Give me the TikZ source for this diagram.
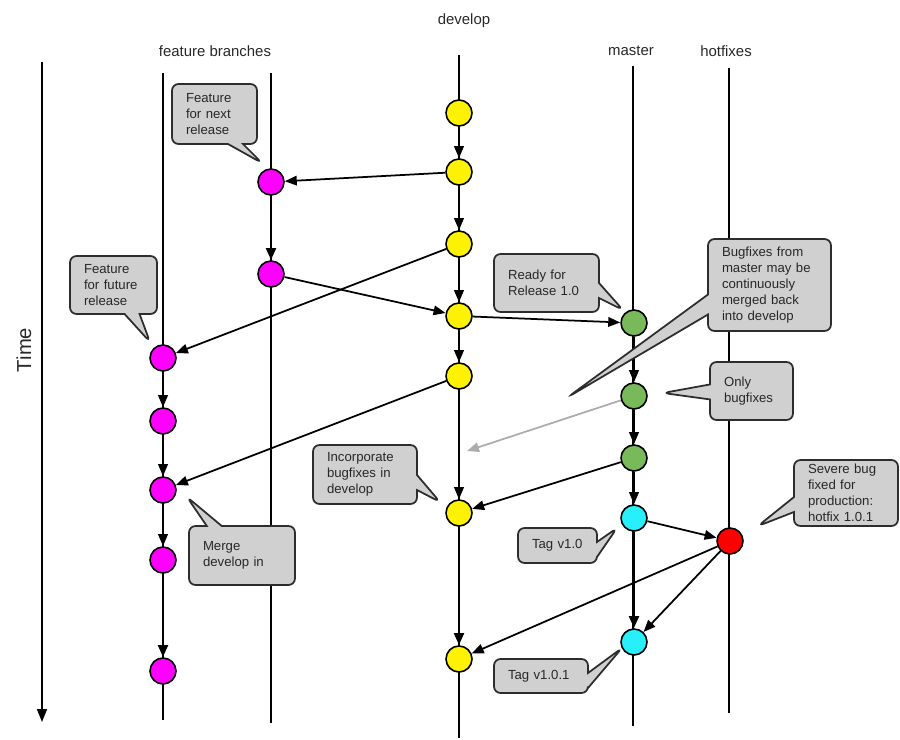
\documentclass[tikz,border=0pt]{standalone}
\usepackage{fontspec}
\setmainfont{Liberation Sans}
\usetikzlibrary{arrows.meta,shapes.callouts}

\definecolor{commitpink}{RGB}{255,0,255}
\definecolor{commitgreen}{RGB}{120,185,90}
\definecolor{commitcyan}{RGB}{40,240,250}
\definecolor{notefill}{RGB}{208,208,208}
\definecolor{noteline}{RGB}{45,45,45}
\definecolor{inktext}{RGB}{40,40,40}

\begin{document}
\begin{tikzpicture}[
    x=0.02cm, y=-0.02cm,
    lane/.style={line width=0.7pt},
    commit/.style={circle, draw, line width=0.9pt, minimum size=0.52cm, inner sep=0pt},
    flow/.style={-{Triangle[length=2.4mm,width=1.9mm]}, line width=1pt},
    trunk/.style={flow, line width=1.2pt},
    heavy/.style={flow, line width=1.7pt},
    note/.style={rectangle callout, rounded corners=1.3mm, draw=noteline, fill=notefill,
        line width=1pt, inner xsep=0pt, inner ysep=2pt, align=left, text=inktext,
        font=\fontsize{7.5}{9.2}\selectfont, callout pointer width=0.3cm},
    head/.style={text=inktext, font=\fontsize{8.5}{10}\selectfont}
]
    \useasboundingbox (0,0) rectangle (900,740);

    % time axis
    \coordinate (t0) at (42,62);
    \coordinate (t1) at (42,722);
    \draw[-{Triangle[length=2.6mm,width=2mm]}, line width=0.9pt] (t0) -- (t1);
    \node[head, font=\fontsize{11.5}{13}\selectfont, rotate=90] (time) at (24,350) {Time};

    % lanes
    \foreach \x/\t/\b in {163/73/720, 271/73/723, 459/55/738, 633/66/726, 729/68/713}
        \draw[lane] (\x,\t) -- (\x,\b);

    \node[head] (lbl feat) at (215,51) {feature branches};
    \node[head] (lbl dev) at (464,21) {develop};
    \node[head] (lbl master) at (631,51) {master};
    \node[head] (lbl hot) at (726,51) {hotfixes};

    % develop
    \foreach \n/\y in {1/113, 2/172, 3/244, 4/316, 5/376, 6/513, 7/659}
        \node[commit, fill=yellow] (dev\n) at (459,\y) {};
    % feature branches
    \node[commit, fill=commitpink] (fn1) at (271,182) {};
    \node[commit, fill=commitpink] (fn2) at (271,274) {};
    \foreach \n/\y in {1/358, 2/421, 3/490, 4/560, 5/671}
        \node[commit, fill=commitpink] (ff\n) at (163,\y) {};
    % master
    \node[commit, fill=commitgreen] (rel1) at (634,323) {};
    \node[commit, fill=commitgreen] (rel2) at (634,396) {};
    \node[commit, fill=commitgreen] (rel3) at (634,458) {};
    \node[commit, fill=commitcyan] (tag1) at (634,518) {};
    \node[commit, fill=commitcyan] (tag2) at (634,642) {};
    % hotfix
    \node[commit, fill=red] (hot) at (730,541) {};

    % commits along each lane
    \foreach \a/\b in {dev1/dev2, dev2/dev3, dev3/dev4, dev4/dev5, dev5/dev6,
                       ff1/ff2, ff2/ff3, ff3/ff4, rel1/rel2, rel2/rel3, rel3/tag1}
        \draw[trunk] (\a) -- (\b);
    \foreach \a/\b in {dev6/dev7, fn1/fn2, ff4/ff5, tag1/tag2}
        \draw[heavy] (\a) -- (\b);

    % merges
    \draw[flow] (dev2) -- (fn1);
    \draw[flow] (fn2) -- (dev4);
    \draw[flow] (dev3) -- (ff1);
    \draw[flow] (dev4) -- (rel1);
    \draw[flow] (dev5) -- (ff3);
    \draw[flow] (rel3) -- (dev6);
    \draw[flow] (tag1) -- (hot);
    \draw[flow] (hot) -- (tag2);
    \draw[flow] (hot) -- (dev7);
    \coordinate (backmerge) at (467,451);
    \draw[flow, color=gray!65] (rel2) -- (backmerge);

    % notes
    \node[note, minimum width=1.70cm, minimum height=1.20cm, text width=1.14cm,
        callout absolute pointer={(262,163)}] (n next) at (214.5,114)
        {Feature\\for next\\release};
    \node[note, minimum width=1.74cm, minimum height=1.16cm, text width=1.18cm,
        callout absolute pointer={(150,342)}] (n future) at (113.5,285)
        {Feature\\for future\\release};
    \node[note, minimum width=2.10cm, minimum height=1.16cm, text width=1.54cm,
        callout absolute pointer={(623,310)}] (n ready) at (546.5,283)
        {Ready for\\Release 1.0};
    \node[note, minimum width=2.46cm, minimum height=1.84cm, text width=1.90cm,
        callout pointer width=0.4cm,
        callout absolute pointer={(568,397)}] (n back) at (769.5,285)
        {Bugfixes from\\master may be\\continuously\\merged back\\into develop};
    \node[note, minimum width=1.66cm, minimum height=1.16cm, text width=1.10cm,
        callout absolute pointer={(663,393)}] (n only) at (751.5,391)
        {Only\\bugfixes};
    \node[note, minimum width=2.08cm, minimum height=1.18cm, text width=1.52cm,
        callout absolute pointer={(440,502)}] (n incorp) at (365,474.5)
        {Incorporate\\bugfixes in\\develop};
    \node[note, minimum width=2.12cm, minimum height=1.18cm, text width=1.56cm,
        callout absolute pointer={(187,497)}] (n merge) at (242,555.5)
        {Merge\\develop in};
    \node[note, minimum width=2.08cm, minimum height=1.32cm, text width=1.52cm,
        callout absolute pointer={(758,526)}] (n severe) at (846,493)
        {Severe bug\\fixed for\\production:\\hotfix 1.0.1};
    \node[note, minimum width=1.58cm, minimum height=0.70cm, text width=1.02cm,
        callout absolute pointer={(617,528)}] (n tag1) at (557.5,545.5)
        {Tag v1.0};
    \node[note, minimum width=1.88cm, minimum height=0.68cm, text width=1.32cm,
        callout absolute pointer={(622,648)}] (n tag2) at (541,676)
        {Tag v1.0.1};
\end{tikzpicture}
\end{document}
